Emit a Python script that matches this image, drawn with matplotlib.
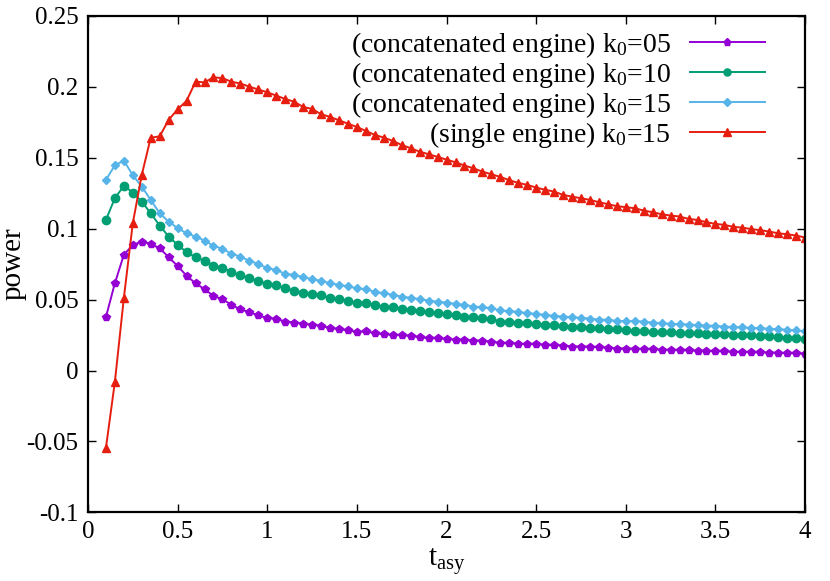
import numpy as np
import matplotlib
matplotlib.use('Agg')
import matplotlib.pyplot as plt

plt.rcParams['font.family'] = ['Liberation Serif', 'DejaVu Serif']
plt.rcParams['mathtext.fontset'] = 'custom'
plt.rcParams['mathtext.rm'] = 'Liberation Serif'
plt.rcParams['mathtext.it'] = 'Liberation Serif:italic'

# t_asy grid: 0.1 .. 4.0 step 0.05 (79 points)
t_asy = np.round(np.arange(0.1, 4.0001, 0.05), 2)

# concatenated engine, k0=05
p_k05 = [0.0376, 0.0615, 0.0815, 0.0885, 0.0908, 0.0892, 0.0862, 0.0798, 0.0737, 0.0667,
         0.0615, 0.0573, 0.0526, 0.0503, 0.0463, 0.0432, 0.0411, 0.0390, 0.0369, 0.0365,
         0.0345, 0.0338, 0.0329, 0.0322, 0.0315, 0.0299, 0.0292, 0.0282, 0.0272, 0.0275,
         0.0263, 0.0256, 0.0251, 0.0249, 0.0244, 0.0235, 0.0228, 0.0226, 0.0223, 0.0216,
         0.0214, 0.0211, 0.0209, 0.0204, 0.0193, 0.0192, 0.0188, 0.0186, 0.0186, 0.0179,
         0.0179, 0.0176, 0.0169, 0.0169, 0.0167, 0.0165, 0.0160, 0.0155, 0.0155, 0.0153,
         0.0151, 0.0150, 0.0146, 0.0145, 0.0144, 0.0141, 0.0140, 0.0137, 0.0136, 0.0134,
         0.0131, 0.0130, 0.0129, 0.0127, 0.0126, 0.0125, 0.0122, 0.0121, 0.0118]

# concatenated engine, k0=10
p_k10 = [0.1061, 0.1214, 0.1301, 0.1254, 0.1190, 0.1108, 0.1021, 0.0944, 0.0885, 0.0834,
         0.0798, 0.0773, 0.0739, 0.0725, 0.0693, 0.0674, 0.0651, 0.0632, 0.0608, 0.0600,
         0.0580, 0.0563, 0.0549, 0.0540, 0.0531, 0.0510, 0.0503, 0.0491, 0.0475, 0.0473,
         0.0461, 0.0451, 0.0444, 0.0435, 0.0427, 0.0420, 0.0413, 0.0404, 0.0399, 0.0391,
         0.0380, 0.0376, 0.0369, 0.0362, 0.0345, 0.0341, 0.0338, 0.0334, 0.0329, 0.0322,
         0.0320, 0.0315, 0.0310, 0.0306, 0.0303, 0.0299, 0.0294, 0.0289, 0.0287, 0.0280,
         0.0277, 0.0273, 0.0270, 0.0268, 0.0265, 0.0263, 0.0261, 0.0258, 0.0256, 0.0254,
         0.0251, 0.0249, 0.0247, 0.0244, 0.0240, 0.0237, 0.0232, 0.0230, 0.0225]

# concatenated engine, k0=15
p_k15 = [0.1343, 0.1446, 0.1479, 0.1376, 0.1296, 0.1202, 0.1108, 0.1049, 0.1003, 0.0967,
         0.0944, 0.0916, 0.0878, 0.0859, 0.0822, 0.0803, 0.0773, 0.0751, 0.0721, 0.0709,
         0.0681, 0.0674, 0.0658, 0.0644, 0.0632, 0.0615, 0.0604, 0.0592, 0.0580, 0.0573,
         0.0554, 0.0545, 0.0533, 0.0521, 0.0512, 0.0503, 0.0493, 0.0484, 0.0479, 0.0469,
         0.0463, 0.0451, 0.0446, 0.0439, 0.0423, 0.0418, 0.0413, 0.0404, 0.0399, 0.0392,
         0.0385, 0.0380, 0.0376, 0.0371, 0.0366, 0.0359, 0.0357, 0.0350, 0.0348, 0.0348,
         0.0345, 0.0338, 0.0334, 0.0329, 0.0327, 0.0324, 0.0320, 0.0317, 0.0315, 0.0310,
         0.0306, 0.0304, 0.0301, 0.0299, 0.0294, 0.0292, 0.0287, 0.0282, 0.0275]

# single engine, k0=15
p_single = [-0.0547, -0.0080, 0.0510, 0.1038, 0.1378, 0.1640, 0.1650, 0.1766, 0.1840, 0.1900,
            0.2035, 0.2030, 0.2066, 0.2060, 0.2035, 0.2022, 0.2000, 0.1980, 0.1960, 0.1937,
            0.1913, 0.1894, 0.1857, 0.1843, 0.1806, 0.1787, 0.1763, 0.1739, 0.1716, 0.1688,
            0.1660, 0.1641, 0.1618, 0.1589, 0.1566, 0.1542, 0.1524, 0.1505, 0.1486, 0.1467,
            0.1444, 0.1425, 0.1401, 0.1383, 0.1364, 0.1341, 0.1322, 0.1308, 0.1289, 0.1273,
            0.1261, 0.1237, 0.1225, 0.1214, 0.1202, 0.1186, 0.1172, 0.1158, 0.1151, 0.1143,
            0.1127, 0.1115, 0.1101, 0.1092, 0.1085, 0.1068, 0.1061, 0.1045, 0.1033, 0.1026,
            0.1012, 0.1007, 0.0996, 0.0989, 0.0979, 0.0967, 0.0960, 0.0951, 0.0937]

labels = [r'(concatenated engine) k$_0$=05',
          r'(concatenated engine) k$_0$=10',
          r'(concatenated engine) k$_0$=15',
          r'(single engine) k$_0$=15']

fig = plt.figure(figsize=(8.3, 5.81), dpi=100)
ax = fig.add_axes([0.106, 0.118, 0.864, 0.855])

ax.plot(t_asy, p_k05, color='#9400D3', marker='p', ms=6, lw=1.4, label=labels[0])
ax.plot(t_asy, p_k10, color='#009E73', marker='o', ms=6, lw=1.4, label=labels[1])
ax.plot(t_asy, p_k15, color='#56B4E9', marker='D', ms=4.5, lw=1.4, label=labels[2])
ax.plot(t_asy, p_single, color='#E51E10', marker='^', ms=6, lw=1.4, label=labels[3])

ax.set_xlim(0, 4)
ax.set_ylim(-0.1, 0.25)
ax.set_xticks([0, 0.5, 1, 1.5, 2, 2.5, 3, 3.5, 4])
ax.set_xticklabels(['0', '0.5', '1', '1.5', '2', '2.5', '3', '3.5', '4'])
ax.set_yticks([-0.1, -0.05, 0, 0.05, 0.1, 0.15, 0.2, 0.25])
ax.set_yticklabels(['-0.1', '-0.05', '0', '0.05', '0.1', '0.15', '0.2', '0.25'])
ax.tick_params(direction='in', length=6, width=1, labelsize=18, top=True, right=True)
ax.tick_params(axis='y', pad=7)
ax.tick_params(axis='x', pad=6)
for s in ax.spines.values():
    s.set_linewidth(1.6)

ax.set_xlabel(r'$\mathrm{t_{asy}}$', fontsize=21, labelpad=2)
ax.set_ylabel('power', fontsize=21)
ax.yaxis.set_label_coords(-0.086, 0.5)

ax.legend(loc='upper right', frameon=False, fontsize=20, markerfirst=False,
          handlelength=2.7, handletextpad=0.7, labelspacing=0.0,
          borderpad=0, borderaxespad=0, markerscale=0.85,
          bbox_to_anchor=(0.944, 0.971))

fig.savefig('out.png', dpi=100)
